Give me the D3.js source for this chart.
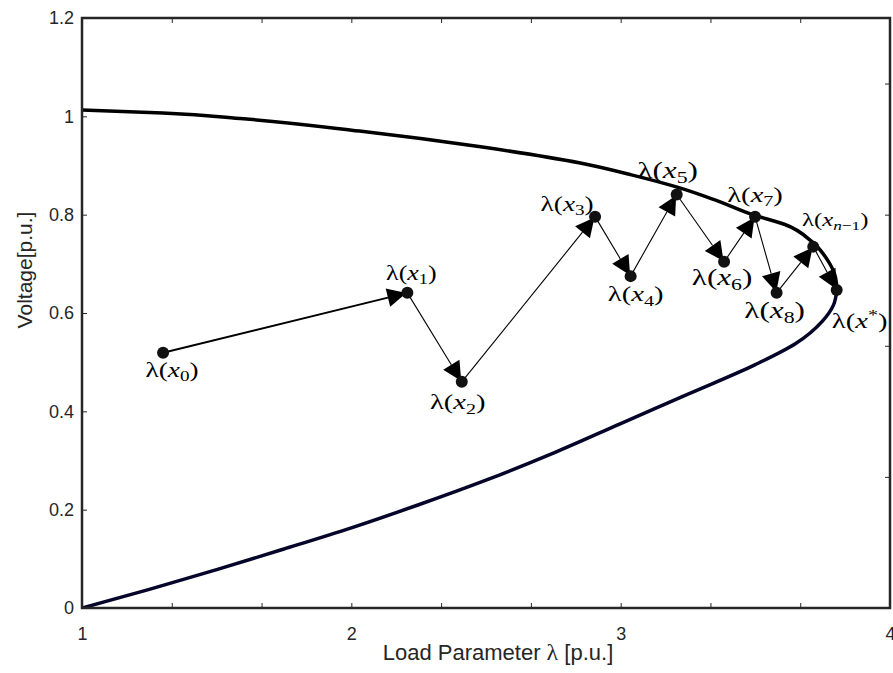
<!DOCTYPE html>
<html>
<head>
<meta charset="utf-8">
<script src="https://cdn.jsdelivr.net/npm/d3@7"></script>
<style>
    body { margin: 0; background: #fff; }
    svg { display: block; }
</style>
</head>
<body>
<div id="chart"></div>
<script>
// == Daten ==
// oberer Ast der PV-Kurve
const upperLambda  = [1.00, 1.30, 1.60, 2.03, 2.48, 2.85, 3.04, 3.21, 3.35, 3.49, 3.61, 3.71, 3.77, 3.796, 3.803];
const upperVoltage = [1.013, 1.007, 0.995, 0.970, 0.938, 0.905, 0.881, 0.856, 0.830, 0.800, 0.780, 0.745, 0.706, 0.676, 0.648];
// unterer Ast
const lowerLambda  = [1.00, 1.25, 1.50, 1.75, 2.00, 2.25, 2.50, 2.75, 3.00, 3.25, 3.50, 3.65, 3.75, 3.79, 3.803];
const lowerVoltage = [0.000, 0.038, 0.078, 0.120, 0.163, 0.210, 0.260, 0.315, 0.375, 0.435, 0.495, 0.538, 0.584, 0.616, 0.648];
// Iterationspunkte
const iterLambda  = [1.301, 2.208, 2.410, 2.905, 3.037, 3.208, 3.384, 3.499, 3.579, 3.715, 3.802];
const iterVoltage = [0.519, 0.641, 0.460, 0.796, 0.675, 0.841, 0.704, 0.796, 0.641, 0.735, 0.647];
const iterSubs    = ['0', '1', '2', '3', '4', '5', '6', '7', '8', 'n−1', '*'];
// Beschriftungen: Versatz zum Punkt (px) und Schriftgröße
const labelDx   = [9, 4, -4, -28, 5, -9, -2, 0, -2, 22, 23];
const labelDy   = [24, -13, 27, -6, 25, -17, 23, -15, 25, -21, 38];
const labelSize = [21, 20, 22, 21, 22, 24, 24, 22, 24, 19, 22];
// Die Formeln im Original sind breiter gezogen
const LABEL_STRETCH = 1.3;

const yTicks = [0, 0.2, 0.4, 0.6, 0.8, 1, 1.2];

// == Layout ==
const W = 893, H = 673;
const margin = {left: 82, right: 3, top: 18, bottom: 65};
const AXIS_COLOR = '#262626';
const SANS = 'Liberation Sans, Arial, Helvetica, sans-serif';

const svg = d3.select('#chart').append('svg')
    .attr('width', W)
    .attr('height', H);

const x = d3.scaleLinear().domain([1, 4]).range([margin.left, W - margin.right]);
const y = d3.scaleLinear().domain([0, 1.2]).range([H - margin.bottom, margin.top]);

// Clip für den Plotbereich
svg.append('clipPath').attr('id', 'plotClip')
    .append('rect')
    .attr('x', x(1)).attr('y', y(1.2))
    .attr('width', x(4) - x(1)).attr('height', y(0) - y(1.2));

// == Achsen ==
// unten: Beschriftung nur an ganzen Zahlen, Ticks alle 1/3
const minorX = d3.range(1, 4.001, 1 / 3);
const xAxis = d3.axisBottom(x).tickValues(minorX).tickSizeInner(-5).tickSizeOuter(0)
    .tickFormat(d => Math.abs(d - Math.round(d)) < 1e-6 ? d3.format('d')(Math.round(d)) : '');
const xTop = d3.axisTop(x).tickValues(minorX).tickSizeInner(-5).tickSizeOuter(0).tickFormat('');
const yAxis = d3.axisLeft(y).tickValues(yTicks).tickSizeInner(-5).tickSizeOuter(0)
    .tickFormat(d => d === 0 || d === 1 ? d : d3.format('.1f')(d));
// rechte Achse hat eine eigene Teilung (4.5 Intervalle)
const yRightScale = d3.scaleLinear().domain([0, 4.5]).range([y(0), y(1.2)]);
const yRight = d3.axisRight(yRightScale).tickValues([1, 2, 3, 4]).tickSizeInner(-5).tickSizeOuter(0).tickFormat('');

function styleAxis(g) {
    g.select('.domain').remove();
    g.selectAll('.tick line').attr('stroke', AXIS_COLOR).attr('stroke-width', 1);
    g.selectAll('.tick text')
        .attr('fill', AXIS_COLOR)
        .style('font-family', SANS)
        .style('font-size', '18px');
}

svg.append('g').attr('transform', `translate(0,${y(0)})`).call(xAxis).call(styleAxis)
    .selectAll('.tick text').attr('y', 19);
svg.append('g').attr('transform', `translate(0,${y(1.2)})`).call(xTop).call(styleAxis);
svg.append('g').attr('transform', `translate(${x(1)},0)`).call(yAxis).call(styleAxis)
    .selectAll('.tick text').attr('x', -8);
svg.append('g').attr('transform', `translate(${x(4)},0)`).call(yRight).call(styleAxis);

// == Kurven ==
// V ist auf jedem Ast monoton -> monotone Interpolation in y-Richtung
const line = d3.line()
    .x(d => x(d[0]))
    .y(d => y(d[1]))
    .curve(d3.curveMonotoneY);

const plot = svg.append('g').attr('clip-path', 'url(#plotClip)');

plot.append('path')
    .datum(d3.zip(lowerLambda, lowerVoltage))
    .attr('d', line)
    .attr('fill', 'none')
    .attr('stroke', '#05052a')
    .attr('stroke-width', 3.5);

plot.append('path')
    .datum(d3.zip(upperLambda, upperVoltage))
    .attr('d', line)
    .attr('fill', 'none')
    .attr('stroke', '#000')
    .attr('stroke-width', 3.5);

// == Pfeile zwischen den Iterationen ==
const HEAD_LEN = 19, HEAD_W = 19;
const arrows = svg.append('g');
for (let i = 0; i < iterLambda.length - 1; i++) {
    const x0 = x(iterLambda[i]), y0 = y(iterVoltage[i]);
    const x1 = x(iterLambda[i + 1]), y1 = y(iterVoltage[i + 1]);
    const a = Math.atan2(y1 - y0, x1 - x0);
    // Spitze knapp vor dem Mittelpunkt des Zielpunkts
    const tx = x1 - 1 * Math.cos(a), ty = y1 - 1 * Math.sin(a);
    const bx = tx - HEAD_LEN * Math.cos(a), by = ty - HEAD_LEN * Math.sin(a);
    const nx = -Math.sin(a) * HEAD_W / 2, ny = Math.cos(a) * HEAD_W / 2;

    arrows.append('line')
        .attr('x1', x0).attr('y1', y0)
        .attr('x2', bx).attr('y2', by)
        .attr('stroke', '#000')
        .attr('stroke-width', i === 0 ? 2 : 1.1);
    arrows.append('path')
        .attr('d', `M${tx},${ty}L${bx + nx},${by + ny}L${bx - nx},${by - ny}Z`)
        .attr('fill', '#000');
}

// == Punkte ==
svg.append('g').selectAll('circle')
    .data(d3.range(iterLambda.length))
    .enter()
    .append('circle')
    .attr('cx', i => x(iterLambda[i]))
    .attr('cy', i => y(iterVoltage[i]))
    .attr('r', 6)
    .attr('fill', '#111');

// == Beschriftungen λ(x_i) ==
const labels = svg.append('g')
    .style('font-family', 'Liberation Serif, Times New Roman, serif')
    .attr('text-anchor', 'middle')
    .attr('fill', '#000');

iterSubs.forEach((sub, i) => {
    const fs = labelSize[i];
    const cx = x(iterLambda[i]) + labelDx[i];
    const cy = y(iterVoltage[i]) + labelDy[i];
    const t = labels.append('text')
        .attr('transform', `translate(${cx},${cy}) scale(${LABEL_STRETCH},1)`)
        .style('font-size', fs + 'px');
    t.append('tspan').text('λ(');
    t.append('tspan').style('font-style', 'italic').text('x');
    if (sub === '*') {
        t.append('tspan').attr('dy', -fs * 0.38).style('font-size', (fs * 0.7) + 'px').text('*');
        t.append('tspan').attr('dy', fs * 0.38).text(')');
    } else {
        const s = t.append('tspan').attr('dy', fs * 0.22).style('font-size', (fs * 0.7) + 'px');
        if (sub.startsWith('n')) {
            s.append('tspan').style('font-style', 'italic').text('n');
            s.append('tspan').text(sub.slice(1));
        } else {
            s.text(sub);
        }
        t.append('tspan').attr('dy', -fs * 0.22).text(')');
    }
});

// == Rahmen ==
svg.append('rect')
    .attr('x', x(1)).attr('y', y(1.2))
    .attr('width', x(4) - x(1)).attr('height', y(0) - y(1.2))
    .attr('fill', 'none')
    .attr('stroke', AXIS_COLOR)
    .attr('stroke-width', 2.5);

// == Achsentitel ==
svg.append('text')
    .attr('transform', `translate(32,270) rotate(-90)`)
    .attr('text-anchor', 'middle')
    .attr('fill', AXIS_COLOR)
    .style('font-family', SANS)
    .style('font-size', '21px')
    .text('Voltage[p.u.]');

const xl = svg.append('text')
    .attr('x', 498).attr('y', 660)
    .attr('text-anchor', 'middle')
    .attr('fill', AXIS_COLOR)
    .style('font-family', SANS)
    .style('font-size', '22px');
xl.append('tspan').text('Load Parameter ');
xl.append('tspan').style('font-family', 'Liberation Serif, serif').style('font-size', '24px').text('λ');
xl.append('tspan').text(' [p.u.]');
</script>
</body>
</html>
